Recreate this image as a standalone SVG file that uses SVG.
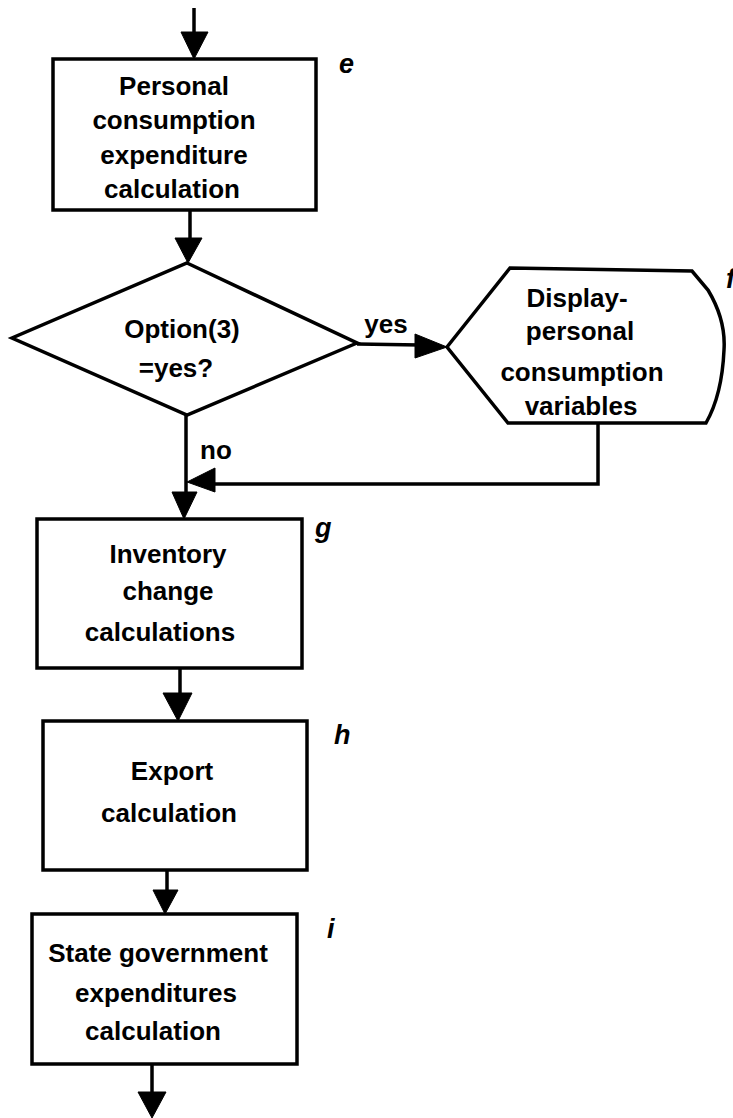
<svg xmlns="http://www.w3.org/2000/svg" width="733" height="1118" viewBox="0 0 733 1118">
  <style>
    .shape { fill: #fff; stroke: #000; stroke-width: 3.5; stroke-linejoin: miter; }
    .wire { fill: none; stroke: #000; stroke-width: 3.5; }
    .head { fill: #000; stroke: #000; stroke-width: 1; stroke-linejoin: miter; }
    .txt { font-family: "Liberation Sans", Arial, sans-serif; font-weight: bold; font-size: 26px; fill: #000; text-anchor: middle; }
    .tag { font-family: "Liberation Sans", Arial, sans-serif; font-weight: bold; font-style: italic; font-size: 27px; fill: #000; }
  </style>
  <rect width="733" height="1118" fill="#fff"/>

  <!-- connectors -->
  <g id="connectors">
    <line class="wire" x1="194" y1="8" x2="194" y2="34"/>
    <polygon class="head" points="181,32 208,32 194,59"/>

    <line class="wire" x1="190" y1="210" x2="190" y2="240"/>
    <polygon class="head" points="175,238 202,238 188,263"/>

    <line class="wire" x1="357" y1="344" x2="420" y2="345"/>
    <polygon class="head" points="415,334 447,347 415,358"/>

    <line class="wire" x1="186" y1="415" x2="186" y2="494"/>
    <polyline class="wire" points="598,423 598,484 212,484"/>
    <polygon class="head" points="187,482 215,468 215,492"/>
    <polygon class="head" points="172,492 197,492 184,519"/>

    <line class="wire" x1="180" y1="668" x2="180" y2="695"/>
    <polygon class="head" points="163,693 192,693 178,721"/>

    <line class="wire" x1="167" y1="870" x2="167" y2="892"/>
    <polygon class="head" points="153,890 178,890 165,914"/>

    <line class="wire" x1="152" y1="1064" x2="152" y2="1094"/>
    <polygon class="head" points="138,1092 166,1092 152,1118"/>
  </g>

  <!-- e: personal consumption expenditure -->
  <g id="node-e">
    <rect class="shape" x="53" y="59" width="263" height="151"/>
    <text class="txt" x="174" y="95">Personal</text>
    <text class="txt" x="174" y="129">consumption</text>
    <text class="txt" x="174" y="164">expenditure</text>
    <text class="txt" x="172" y="198">calculation</text>
    <text class="tag" x="339" y="73">e</text>
  </g>

  <!-- decision: option(3) -->
  <g id="node-decision">
    <polygon class="shape" points="187,263 357,343 187,415 12,338"/>
    <text class="txt" x="182" y="338">Option(3)</text>
    <text class="txt" x="176" y="377">=yes?</text>
    <text class="txt" x="386" y="333">yes</text>
    <text class="txt" x="216" y="459">no</text>
  </g>

  <!-- f: display personal consumption variables -->
  <g id="node-f">
    <path class="shape" d="M447,347 L510,268 L692,271 L708,290 Q726,320 724,350 Q722,395 706,423 L508,423 Z"/>
    <text class="txt" x="577" y="307">Display-</text>
    <text class="txt" x="580" y="340">personal</text>
    <text class="txt" x="582" y="381">consumption</text>
    <text class="txt" x="581" y="415">variables</text>
    <text class="tag" x="726" y="288">f</text>
  </g>

  <!-- g: inventory change -->
  <g id="node-g">
    <rect class="shape" x="37" y="519" width="265" height="149"/>
    <text class="txt" x="168" y="563">Inventory</text>
    <text class="txt" x="168" y="600">change</text>
    <text class="txt" x="160" y="641">calculations</text>
    <text class="tag" x="315" y="537">g</text>
  </g>

  <!-- h: export -->
  <g id="node-h">
    <rect class="shape" x="43" y="721" width="264" height="149"/>
    <text class="txt" x="172" y="780">Export</text>
    <text class="txt" x="169" y="822">calculation</text>
    <text class="tag" x="334" y="744">h</text>
  </g>

  <!-- i: state government expenditures -->
  <g id="node-i">
    <rect class="shape" x="32" y="914" width="265" height="150"/>
    <text class="txt" x="158" y="962">State government</text>
    <text class="txt" x="156" y="1002">expenditures</text>
    <text class="txt" x="153" y="1040">calculation</text>
    <text class="tag" x="327" y="938">i</text>
  </g>
</svg>
